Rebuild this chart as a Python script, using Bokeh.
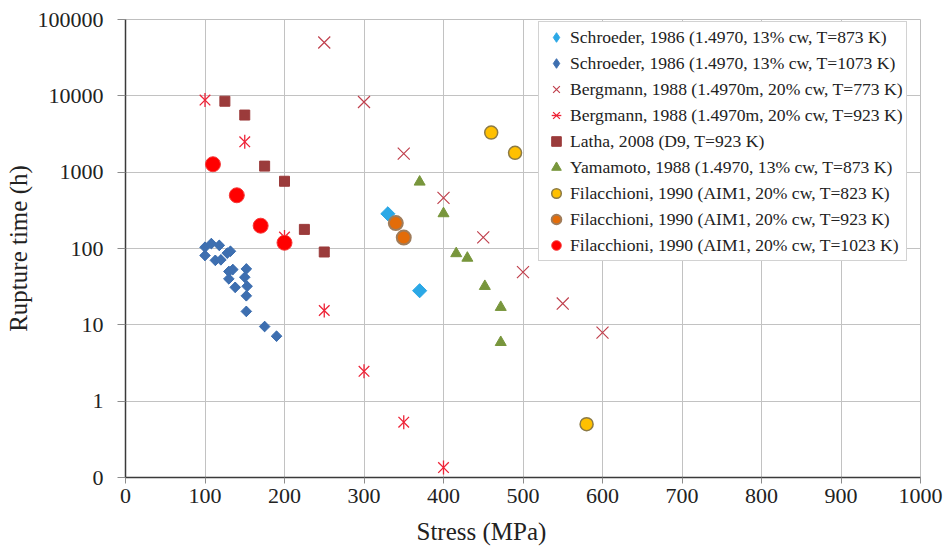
import numpy as np
from bokeh.plotting import figure
from bokeh.models import (Legend, LegendItem, FixedTicker, CustomJSTickFormatter,
                          Title, Range1d, ColumnDataSource)
from bokeh.embed import file_html
from bokeh.resources import INLINE

# ---- data (stress in MPa, rupture time in h) ----
sch873_x = [330, 370]
sch873_y = [285, 28]

sch1073_x = [100, 100, 108, 118, 113, 120, 132, 128, 130, 135, 130, 138,
             152, 150, 153, 152, 152, 175, 190]
sch1073_y = [81, 104, 116, 110, 70, 71, 92, 87, 50, 53, 40, 31,
             54, 42, 32, 24, 15, 9.5, 7.1]

berg773_x = [250, 300, 350, 400, 450, 500, 550, 600]
berg773_y = [50000, 8300, 1750, 460, 140, 49, 19, 7.9]

berg923_x = [100, 150, 200, 250, 300, 350, 400]
berg923_y = [8800, 2500, 141, 15.4, 2.46, 0.53, 0.135]

latha_x = [125, 150, 175, 200, 225, 250]
latha_y = [8500, 5600, 1200, 760, 178, 90]

yama_x = [370, 400, 416, 430, 452, 472, 472]
yama_y = [745, 287, 86, 75, 32, 17, 5.9]

fil823_x = [460, 490, 580]
fil823_y = [3300, 1790, 0.5]

fil923_x = [340, 350]
fil923_y = [215, 139]

fil1023_x = [110, 140, 170, 200]
fil1023_y = [1270, 498, 199, 119]

labels = [
    "Schroeder, 1986 (1.4970, 13% cw, T=873 K)",
    "Schroeder, 1986 (1.4970, 13% cw, T=1073 K)",
    "Bergmann, 1988 (1.4970m, 20% cw, T=773 K)",
    "Bergmann, 1988 (1.4970m, 20% cw, T=923 K)",
    "Latha, 2008 (D9, T=923 K)",
    "Yamamoto, 1988 (1.4970, 13% cw, T=873 K)",
    "Filacchioni, 1990 (AIM1, 20% cw, T=823 K)",
    "Filacchioni, 1990 (AIM1, 20% cw, T=923 K)",
    "Filacchioni, 1990 (AIM1, 20% cw, T=1023 K)",
]

x_ticks = [0, 100, 200, 300, 400, 500, 600, 700, 800, 900, 1000]
y_ticks = [0.1, 1, 10, 100, 1000, 10000, 100000]
y_tick_labels = ["0", "1", "10", "100", "1000", "10000", "100000"]

FONT = "Liberation Serif"
TXT = "#222222"

p = figure(width=946, height=555, y_axis_type="log",
           x_range=Range1d(0, 1000), y_range=Range1d(0.1, 100000),
           output_backend="svg", toolbar_location=None,
           min_border_left=125, min_border_right=26,
           min_border_top=19, min_border_bottom=78)
p.background_fill_color = "white"
p.border_fill_color = "white"
p.outline_line_color = "#BFBFBF"

# axes
p.xaxis.ticker = FixedTicker(ticks=x_ticks)
p.yaxis.ticker = FixedTicker(ticks=y_ticks)
p.yaxis.formatter = CustomJSTickFormatter(
    args=dict(vals=y_ticks, labs=y_tick_labels),
    code="""
    for (let i = 0; i < vals.length; i++) {
        if (Math.abs(Math.log10(tick) - Math.log10(vals[i])) < 1e-6) return labs[i];
    }
    return '';
    """)
for ax in (p.xaxis[0], p.yaxis[0]):
    ax.axis_line_color = "#3a3a3a"
    ax.axis_line_width = 1.5
    ax.major_tick_line_color = "#8c8c8c"
    ax.major_tick_in = 0
    ax.minor_tick_line_color = None
    ax.major_label_text_font = FONT
    ax.major_label_text_font_size = "22px"
    ax.major_label_text_color = TXT
p.xaxis.major_tick_out = 6
p.xaxis.major_label_standoff = 5
p.yaxis.major_tick_out = 8
p.yaxis.major_label_standoff = 14

p.yaxis.axis_label = "Rupture time (h)"
p.yaxis.axis_label_text_font = FONT
p.yaxis.axis_label_text_font_size = "25px"
p.yaxis.axis_label_text_font_style = "normal"
p.yaxis.axis_label_text_color = TXT
p.yaxis.axis_label_standoff = 3

xt = Title(text="Stress (MPa)", align="left", offset=291,
           text_font=FONT, text_font_size="25px", text_font_style="normal",
           text_color=TXT, standoff=21)
p.add_layout(xt, "below")

p.xgrid.grid_line_color = "#C2C2C2"
p.ygrid.grid_line_color = "#C2C2C2"
p.xgrid.grid_line_width = 1
p.ygrid.grid_line_width = 1

# ---- series ----
C_SCH873 = "#2BA8E6"
C_SCH1073 = "#3E6FB0"
C_B773 = "#C0404D"
C_B923 = "#EE2438"

src873 = ColumnDataSource(dict(x=sch873_x, y=sch873_y))
src1073 = ColumnDataSource(dict(x=sch1073_x, y=sch1073_y))

# upright diamonds (used for the legend swatch); they sit fully under the
# equal-sided rotated squares drawn next, which give the plotted diamond shape
lg1 = p.scatter("x", "y", source=src873, marker="diamond", size=13,
                fill_color=C_SCH873, line_color=C_SCH873)
r1 = p.scatter("x", "y", source=src873, marker="square", angle=np.pi / 4, size=10,
               fill_color=C_SCH873, line_color=C_SCH873)
lg2 = p.scatter("x", "y", source=src1073, marker="diamond", size=10,
                fill_color=C_SCH1073, line_color=C_SCH1073)
r2 = p.scatter("x", "y", source=src1073, marker="square", angle=np.pi / 4, size=7.5,
               fill_color=C_SCH1073, line_color=C_SCH1073)
r3 = p.scatter(berg773_x, berg773_y, marker="x", size=17,
               line_color=C_B773, line_width=1.2)
r4a = p.scatter(berg923_x, berg923_y, marker="x", size=15,
                line_color=C_B923, line_width=1.3)
r4b = p.scatter(berg923_x, berg923_y, marker="dash", angle=np.pi / 2, size=14,
                line_color=C_B923, line_width=1.3)
r5 = p.scatter(latha_x, latha_y, marker="square", size=10,
               fill_color="#9B3B3B", line_color="#9B3B3B")
r6 = p.scatter(yama_x, yama_y, marker="triangle", size=11,
               fill_color="#78963C", line_color="#78963C")
r7 = p.scatter(fil823_x, fil823_y, marker="circle", size=13,
               fill_color="#FFC000", line_color="#8C7A45", line_width=1.5)
r8 = p.scatter(fil923_x, fil923_y, marker="circle", size=14,
               fill_color="#E36C09", line_color="#A07C5A", line_width=2)
r9 = p.scatter(fil1023_x, fil1023_y, marker="circle", size=15,
               fill_color="#FF0000", line_color="#F53A3A", line_width=1)

rends = [[lg1], [lg2], [r3], [r4a, r4b], [r5], [r6], [r7], [r8], [r9]]
items = [LegendItem(label=l, renderers=r) for l, r in zip(labels, rends)]
legend = Legend(items=items, location=(413, 216),
                label_text_font=FONT, label_text_font_size="17.6px",
                label_text_color=TXT,
                glyph_width=28, glyph_height=24, label_height=24,
                spacing=2, padding=3, label_standoff=0, margin=0,
                border_line_color="#A6A6A6", border_line_width=1,
                background_fill_color="white", background_fill_alpha=1)
p.add_layout(legend)

open("out.html", "w").write(file_html(p, INLINE))
